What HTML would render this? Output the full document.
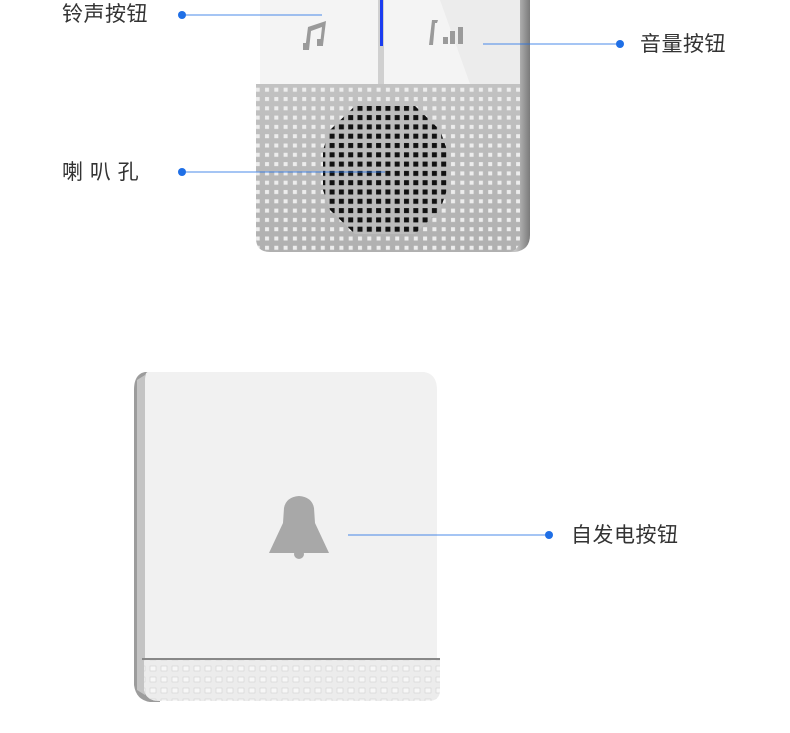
<!DOCTYPE html>
<html><head><meta charset="utf-8"><style>
html,body{margin:0;padding:0;background:#fff;}
body{width:790px;height:733px;overflow:hidden;position:relative;font-family:"Liberation Sans","Noto Sans CJK SC",sans-serif;}
.l{position:absolute;font-size:21px;color:#333;line-height:1;letter-spacing:0.5px;}
</style></head><body>
<svg width="790" height="733" style="position:absolute;left:0;top:0">
<defs>
<pattern id="lp" x="263" y="95" width="9.3" height="9.3" patternUnits="userSpaceOnUse"><rect x="2" y="2" width="4" height="4" fill="#ededed"/></pattern>
<pattern id="bp" x="263" y="95" width="9.3" height="9.3" patternUnits="userSpaceOnUse"><rect x="1.5" y="1.5" width="5" height="5" fill="#111"/></pattern>
<pattern id="sp" x="148" y="664" width="11" height="11" patternUnits="userSpaceOnUse"><rect x="2" y="2" width="6" height="5" fill="#f7f7f7" stroke="#d0d0d0" stroke-width="0.6"/></pattern>
<clipPath id="cc"><polygon points="355,106 415,106 440,130 447,150 447,190 440,210 415,234 355,234 330,210 323,190 323,150 330,130"/></clipPath>
<linearGradient id="side" x1="0" x2="1"><stop offset="0" stop-color="#9a9a9a"/><stop offset="0.5" stop-color="#c8c8c8"/><stop offset="1" stop-color="#7a7a7a"/></linearGradient>
<linearGradient id="grl" x1="0" y1="0" x2="0" y2="1"><stop offset="0" stop-color="#c2c2c2"/><stop offset="1" stop-color="#b0b0b0"/></linearGradient>
</defs>
<path d="M512 0 H530 V235 Q530 250 515 252 H500 Z" fill="url(#side)"/>
<rect x="260" y="0" width="260" height="84" fill="#f4f4f4"/>
<path d="M440 0 H520 V84 H470 Z" fill="#ececec"/>
<rect x="378" y="0" width="6" height="84" fill="#d0d0d0"/>
<rect x="380" y="0" width="3" height="46" fill="#1a3cf0"/>
<path d="M256 84 H520 V238 Q520 252 506 252 H270 Q256 252 256 238 Z" fill="url(#grl)"/>
<path d="M256 84 H520 V238 Q520 252 506 252 H270 Q256 252 256 238 Z" fill="url(#lp)"/>
<rect x="320" y="100" width="130" height="136" fill="#bcbcbc" clip-path="url(#cc)"/>
<rect x="320" y="100" width="130" height="136" fill="url(#bp)" clip-path="url(#cc)"/>
<path d="M305 50 L308 27 L326 21 L323 45 L320 45 L322 27 L311 31 L309 50 Z" fill="#9a9a9a"/>
<rect x="303" y="43" width="6" height="7" fill="#9a9a9a"/><rect x="317" y="39" width="6" height="7" fill="#9a9a9a"/>
<path d="M429 45 L432 20 L438 20 L437 23 L435 23 L433 45 Z" fill="#9a9a9a"/>
<rect x="443" y="37" width="5" height="7" fill="#9a9a9a"/><rect x="450" y="31" width="5" height="13" fill="#9a9a9a"/><rect x="458" y="27" width="5" height="17" fill="#9a9a9a"/>
<path d="M145 372 Q134 374 134 390 V685 Q136 700 150 702 L160 702 L150 372 Z" fill="#9c9c9c"/>
<path d="M137 380 V690 L145 695 V375 Z" fill="#c4c4c4"/>
<path d="M148 372 H424 Q437 374 437 390 V660 H145 V380 Q145 372 148 372 Z" fill="#f1f1f1"/>
<rect x="142" y="658" width="298" height="2" fill="#888"/>
<path d="M144 660 H440 V690 Q440 701 428 701 H160 Q146 701 144 690 Z" fill="#ececec"/>
<path d="M144 660 H440 V690 Q440 701 428 701 H160 Q146 701 144 690 Z" fill="url(#sp)"/>
<path d="M269 553 L283 523 L284 508 Q286 497 299 496 Q312 497 314 508 L315 523 L329 553 Z" fill="#a8a8a8"/>
<circle cx="299" cy="554" r="5" fill="#a8a8a8"/>
<g stroke="#1f6fe6" stroke-width="1" opacity="0.8">
<line x1="182" y1="15" x2="322" y2="15"/>
<line x1="483" y1="44" x2="620" y2="44"/>
<line x1="182" y1="172" x2="385" y2="172"/>
<line x1="348" y1="535" x2="549" y2="535"/>
</g>
<g fill="#1f6fe6"><circle cx="182" cy="15" r="4"/><circle cx="620" cy="44" r="4"/><circle cx="182" cy="172" r="4"/><circle cx="549" cy="535" r="4"/></g>
</svg>
<div class="l" style="left:62px;top:4px">铃声按钮</div>
<div class="l" style="left:640px;top:34px">音量按钮</div>
<div class="l" style="left:62px;top:162px">喇 叭 孔</div>
<div class="l" style="left:571px;top:525px">自发电按钮</div>
</body></html>
